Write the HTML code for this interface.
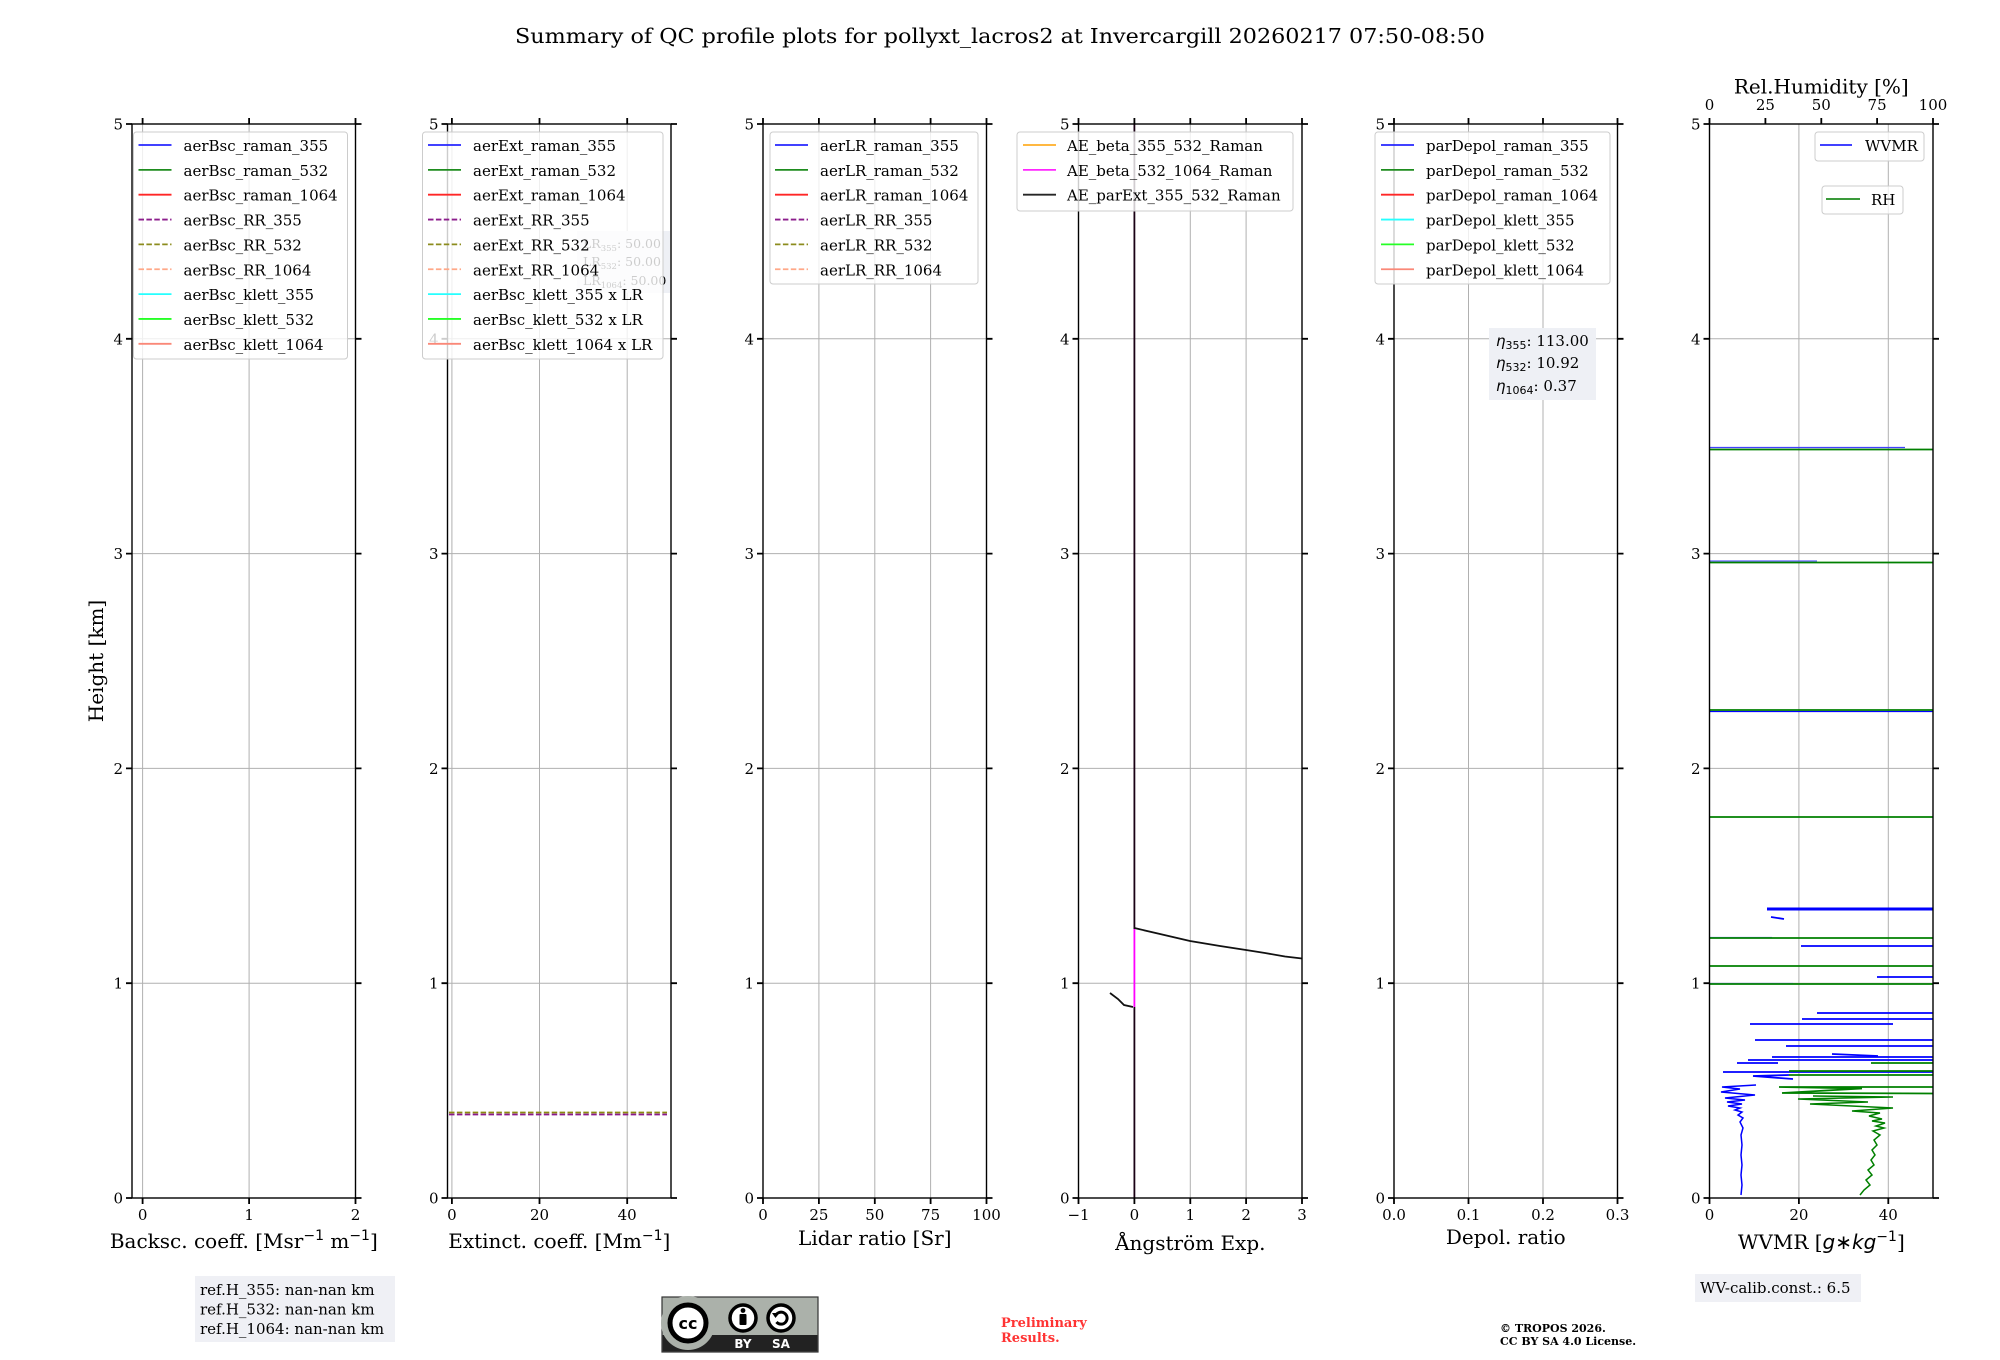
<!DOCTYPE html>
<html><head><meta charset="utf-8"><style>
html,body{margin:0;padding:0;background:#fff;}
svg{display:block;}
text{font-family:"DejaVu Serif","Liberation Serif",serif;fill:#000;}
.t{font-size:15px;}
.lab{font-size:20px;}
.m{font-family:"DejaVu Sans","Liberation Sans",sans-serif;}
</style></head><body>
<svg width="2000" height="1360" viewBox="0 0 2000 1360" xmlns="http://www.w3.org/2000/svg">
<rect width="2000" height="1360" fill="#fff"/>
<text x="1000" y="43" font-size="20.5" text-anchor="middle" textLength="970" lengthAdjust="spacingAndGlyphs">Summary of QC profile plots for pollyxt_lacros2 at Invercargill 20260217 07:50-08:50</text>

<!-- grids -->
<g stroke="#b0b0b0" stroke-width="1">
<path d="M132 983.2H355.5M132 768.4H355.5M132 553.6H355.5M132 338.8H355.5"/>
<path d="M447.5 983.2H671M447.5 768.4H671M447.5 553.6H671M447.5 338.8H671"/>
<path d="M763 983.2H986.5M763 768.4H986.5M763 553.6H986.5M763 338.8H986.5"/>
<path d="M1078.5 983.2H1302M1078.5 768.4H1302M1078.5 553.6H1302M1078.5 338.8H1302"/>
<path d="M1394 983.2H1617.5M1394 768.4H1617.5M1394 553.6H1617.5M1394 338.8H1617.5"/>
<path d="M1709.5 983.2H1933M1709.5 768.4H1933M1709.5 553.6H1933M1709.5 338.8H1933"/>
<path d="M142.6 124V1198M249.1 124V1198"/>
<path d="M451.9 124V1198M539.5 124V1198M627.2 124V1198"/>
<path d="M818.9 124V1198M874.8 124V1198M930.6 124V1198"/>
<path d="M1134.4 124V1198M1190.3 124V1198M1246.1 124V1198"/>
<path d="M1468.5 124V1198M1543 124V1198"/>
<path d="M1798.9 124V1198M1888.3 124V1198"/>
</g>

<!-- Panel 2 LR box (under legend) -->
<rect x="577" y="231" width="93" height="62" fill="#eef0f5"/>
<text x="583" y="248" font-size="12.5">LR<tspan font-size="8.5" dy="3">355</tspan><tspan dy="-3">: 50.00</tspan></text>
<text x="583" y="266" font-size="12.5">LR<tspan font-size="8.5" dy="3">532</tspan><tspan dy="-3">: 50.00</tspan></text>
<text x="583" y="285" font-size="12.5">LR<tspan font-size="8.5" dy="3">1064</tspan><tspan dy="-3">: 50.00</tspan></text>

<!-- Panel 2 data -->
<line x1="449" y1="1112.5" x2="667" y2="1112.5" stroke="#8a8a10" stroke-width="1.8" stroke-dasharray="5.5,2.4"/>
<line x1="449" y1="1114.5" x2="667" y2="1114.5" stroke="#8a1a8a" stroke-width="1.8" stroke-dasharray="5.5,2.4"/>

<!-- Panel 4 data -->
<g fill="none" stroke-width="1.8">
<line x1="1134.4" y1="124" x2="1134.4" y2="929" stroke="#1a0014"/>
<line x1="1134.4" y1="929" x2="1134.4" y2="1007" stroke="#ff00ff"/>
<line x1="1134.4" y1="1007" x2="1134.4" y2="1198" stroke="#1a0014"/>
<polyline points="1134.4,928 1160,934 1190,941 1220,946 1246,950 1265,953 1285,956.5 1302,958.5" stroke="#111"/>
<polyline points="1110,993 1118,999 1124,1005 1133,1007" stroke="#111"/>
</g>

<!-- Panel 6 data: WVMR blue -->
<g fill="none" stroke="#0000ff" stroke-width="1.8">
<path d="M1767 909H1933" stroke-width="3"/>
<path d="M1771 917L1784 919"/>
<path d="M1709.5 937.5H1772" stroke="#8080ff" stroke-width="1.2"/>
<path d="M1801 946H1933"/>
<path d="M1877 977H1933"/>
<path d="M1709.5 983.5H1793" stroke="#8080ff" stroke-width="1.2"/>
<path d="M1817 1013H1933"/>
<path d="M1802 1019H1933"/>
<path d="M1750 1024H1893"/>
<path d="M1755 1040H1933"/>
<path d="M1786 1046H1933"/>
<path d="M1832 1054L1878 1056"/>
<path d="M1772 1057H1933"/>
<path d="M1748 1060H1933"/>
<path d="M1737 1063H1778"/>
<path d="M1723 1072H1933"/>
<path d="M1789 1075L1753 1076L1793 1079"/>
<path d="M1709.5 447.5H1905" stroke="#4040ff" stroke-width="1.2"/>
<path d="M1709.5 561H1817" stroke="#6060ff" stroke-width="1.2"/>
<path d="M1709.5 711.5H1933" stroke-width="1.2"/>
<polyline points="1756,1085 1722,1087 1740,1089 1721,1092 1755,1095 1725,1098 1745,1100 1727,1102 1742,1104 1728,1106 1740,1108 1735,1110 1742,1112 1738,1115 1743,1118 1740,1122 1743,1128 1741,1135 1742,1145 1741,1155 1742,1165 1741,1175 1742,1185 1741,1195" stroke-width="1.5"/>
</g>
<!-- RH green -->
<g fill="none" stroke="#008000" stroke-width="1.8">
<path d="M1709.5 449.5H1933M1709.5 562.5H1933M1709.5 710H1933M1709.5 817H1933M1709.5 938H1933M1709.5 966H1933M1709.5 984H1933"/>
<path d="M1871 1063H1933"/>
<path d="M1789 1071H1933M1789 1075H1933"/>
<polyline points="1933,1087 1779,1087 1862,1088.5 1782,1093 1933,1093.5"/>
<polyline points="1813,1096 1893,1097 1798,1099 1868,1102 1810,1104 1893,1108 1852,1111 1880,1113 1869,1116 1882,1119 1872,1121 1885,1123 1876,1126 1884,1128 1873,1131 1880,1135 1874,1140 1877,1145 1872,1150 1875,1155 1871,1160 1874,1165 1868,1170 1872,1175 1866,1180 1870,1185 1864,1190 1860,1195" stroke-width="1.5"/>
</g>

<!-- spines -->
<g fill="none" stroke="#000" stroke-width="1.4">
<rect x="132" y="124" width="223.5" height="1074"/>
<rect x="447.5" y="124" width="223.5" height="1074"/>
<rect x="763" y="124" width="223.5" height="1074"/>
<rect x="1078.5" y="124" width="223.5" height="1074"/>
<rect x="1394" y="124" width="223.5" height="1074"/>
<rect x="1709.5" y="124" width="223.5" height="1074"/>
</g>

<!-- ticks -->
<g stroke="#000" stroke-width="1.8">
<path d="M126 124H132M126 338.8H132M126 553.6H132M126 768.4H132M126 983.2H132M126 1198H132
M355.5 124H361.5M355.5 338.8H361.5M355.5 553.6H361.5M355.5 768.4H361.5M355.5 983.2H361.5M355.5 1198H361.5"/>
<path d="M441.5 124H447.5M441.5 338.8H447.5M441.5 553.6H447.5M441.5 768.4H447.5M441.5 983.2H447.5M441.5 1198H447.5
M671 124H677M671 338.8H677M671 553.6H677M671 768.4H677M671 983.2H677M671 1198H677"/>
<path d="M757 124H763M757 338.8H763M757 553.6H763M757 768.4H763M757 983.2H763M757 1198H763
M986.5 124H992.5M986.5 338.8H992.5M986.5 553.6H992.5M986.5 768.4H992.5M986.5 983.2H992.5M986.5 1198H992.5"/>
<path d="M1072.5 124H1078.5M1072.5 338.8H1078.5M1072.5 553.6H1078.5M1072.5 768.4H1078.5M1072.5 983.2H1078.5M1072.5 1198H1078.5
M1302 124H1308M1302 338.8H1308M1302 553.6H1308M1302 768.4H1308M1302 983.2H1308M1302 1198H1308"/>
<path d="M1388 124H1394M1388 338.8H1394M1388 553.6H1394M1388 768.4H1394M1388 983.2H1394M1388 1198H1394
M1617.5 124H1623.5M1617.5 338.8H1623.5M1617.5 553.6H1623.5M1617.5 768.4H1623.5M1617.5 983.2H1623.5M1617.5 1198H1623.5"/>
<path d="M1703.5 124H1709.5M1703.5 338.8H1709.5M1703.5 553.6H1709.5M1703.5 768.4H1709.5M1703.5 983.2H1709.5M1703.5 1198H1709.5
M1933 124H1939M1933 338.8H1939M1933 553.6H1939M1933 768.4H1939M1933 983.2H1939M1933 1198H1939"/>
<path d="M142.6 118V124M249.1 118V124M355.5 118V124M142.6 1198V1204M249.1 1198V1204M355.5 1198V1204"/>
<path d="M451.9 118V124M539.5 118V124M627.2 118V124M451.9 1198V1204M539.5 1198V1204M627.2 1198V1204"/>
<path d="M763 118V124M818.9 118V124M874.8 118V124M930.6 118V124M986.5 118V124M763 1198V1204M818.9 1198V1204M874.8 1198V1204M930.6 1198V1204M986.5 1198V1204"/>
<path d="M1078.5 118V124M1134.4 118V124M1190.3 118V124M1246.1 118V124M1302 118V124M1078.5 1198V1204M1134.4 1198V1204M1190.3 1198V1204M1246.1 1198V1204M1302 1198V1204"/>
<path d="M1394 118V124M1468.5 118V124M1543 118V124M1617.5 118V124M1394 1198V1204M1468.5 1198V1204M1543 1198V1204M1617.5 1198V1204"/>
<path d="M1709.5 118V124M1765.4 118V124M1821.3 118V124M1877.1 118V124M1933 118V124M1709.5 1198V1204M1798.9 1198V1204M1888.3 1198V1204"/>
</g>

<!-- y tick labels -->
<g class="t" text-anchor="end">
<text x="123" y="129.5">5</text><text x="123" y="344.3">4</text><text x="123" y="559.1">3</text><text x="123" y="773.9">2</text><text x="123" y="988.7">1</text><text x="123" y="1203.5">0</text>
<text x="438.5" y="129.5">5</text><text x="438.5" y="344.3">4</text><text x="438.5" y="559.1">3</text><text x="438.5" y="773.9">2</text><text x="438.5" y="988.7">1</text><text x="438.5" y="1203.5">0</text>
<text x="754" y="129.5">5</text><text x="754" y="344.3">4</text><text x="754" y="559.1">3</text><text x="754" y="773.9">2</text><text x="754" y="988.7">1</text><text x="754" y="1203.5">0</text>
<text x="1069.5" y="129.5">5</text><text x="1069.5" y="344.3">4</text><text x="1069.5" y="559.1">3</text><text x="1069.5" y="773.9">2</text><text x="1069.5" y="988.7">1</text><text x="1069.5" y="1203.5">0</text>
<text x="1385" y="129.5">5</text><text x="1385" y="344.3">4</text><text x="1385" y="559.1">3</text><text x="1385" y="773.9">2</text><text x="1385" y="988.7">1</text><text x="1385" y="1203.5">0</text>
<text x="1700.5" y="129.5">5</text><text x="1700.5" y="344.3">4</text><text x="1700.5" y="559.1">3</text><text x="1700.5" y="773.9">2</text><text x="1700.5" y="988.7">1</text><text x="1700.5" y="1203.5">0</text>
</g>
<!-- x tick labels -->
<g class="t" text-anchor="middle">
<text x="142.6" y="1220">0</text><text x="249.1" y="1220">1</text><text x="355.5" y="1220">2</text>
<text x="451.9" y="1220">0</text><text x="539.5" y="1220">20</text><text x="627.2" y="1220">40</text>
<text x="763" y="1220">0</text><text x="818.9" y="1220">25</text><text x="874.8" y="1220">50</text><text x="930.6" y="1220">75</text><text x="986.5" y="1220">100</text>
<text x="1078.5" y="1220">−1</text><text x="1134.4" y="1220">0</text><text x="1190.3" y="1220">1</text><text x="1246.1" y="1220">2</text><text x="1302" y="1220">3</text>
<text x="1394" y="1220">0.0</text><text x="1468.5" y="1220">0.1</text><text x="1543" y="1220">0.2</text><text x="1617.5" y="1220">0.3</text>
<text x="1709.5" y="1220">0</text><text x="1798.9" y="1220">20</text><text x="1888.3" y="1220">40</text>
<text x="1709.5" y="110">0</text><text x="1765.4" y="110">25</text><text x="1821.3" y="110">50</text><text x="1877.1" y="110">75</text><text x="1933" y="110">100</text>
</g>

<!-- axis labels -->
<g class="lab" text-anchor="middle">
<text transform="translate(103,661) rotate(-90)">Height [km]</text>
<text x="243.8" y="1248">Backsc. coeff. [Msr<tspan class="m" font-size="14" dy="-8">−1</tspan><tspan dy="8"> m</tspan><tspan class="m" font-size="14" dy="-8">−1</tspan><tspan dy="8">]</tspan></text>
<text x="559.3" y="1248">Extinct. coeff. [Mm<tspan class="m" font-size="14" dy="-8">−1</tspan><tspan dy="8">]</tspan></text>
<text x="874.8" y="1245">Lidar ratio [Sr]</text>
<text x="1190.3" y="1250">Ångström Exp.</text>
<text x="1505.8" y="1244">Depol. ratio</text>
<text x="1821.3" y="1249">WVMR [<tspan class="m" font-style="italic">g</tspan><tspan class="m">∗</tspan><tspan class="m" font-style="italic">kg</tspan><tspan class="m" font-size="14" dy="-8">−1</tspan><tspan dy="8">]</tspan></text>
<text x="1821.3" y="93.5">Rel.Humidity [%]</text>
</g>

<!-- legends -->
<g class="t">
<rect x="133.5" y="132" width="214" height="227" rx="3" fill="#fff" fill-opacity="0.8" stroke="#cccccc" stroke-width="1"/>
<g stroke-width="1.8">
<line x1="138.5" y1="145" x2="171.5" y2="145" stroke="#2626ff"/>
<line x1="138.5" y1="169.85" x2="171.5" y2="169.85" stroke="#1e8c1e"/>
<line x1="138.5" y1="194.7" x2="171.5" y2="194.7" stroke="#ff2626"/>
<line x1="138.5" y1="219.55" x2="171.5" y2="219.55" stroke="#8c1e8c" stroke-dasharray="5.5,2.4"/>
<line x1="138.5" y1="244.4" x2="171.5" y2="244.4" stroke="#8c8c1e" stroke-dasharray="5.5,2.4"/>
<line x1="138.5" y1="269.25" x2="171.5" y2="269.25" stroke="#ffa888" stroke-dasharray="5.5,2.4"/>
<line x1="138.5" y1="294.1" x2="171.5" y2="294.1" stroke="#26ffff"/>
<line x1="138.5" y1="318.95" x2="171.5" y2="318.95" stroke="#26ff26"/>
<line x1="138.5" y1="343.8" x2="171.5" y2="343.8" stroke="#fa8878"/>
</g>
<text x="183.5" y="151">aerBsc_raman_355</text>
<text x="183.5" y="175.85">aerBsc_raman_532</text>
<text x="183.5" y="200.7">aerBsc_raman_1064</text>
<text x="183.5" y="225.55">aerBsc_RR_355</text>
<text x="183.5" y="250.4">aerBsc_RR_532</text>
<text x="183.5" y="275.25">aerBsc_RR_1064</text>
<text x="183.5" y="300.1">aerBsc_klett_355</text>
<text x="183.5" y="324.95">aerBsc_klett_532</text>
<text x="183.5" y="349.8">aerBsc_klett_1064</text>

<rect x="422.5" y="132" width="240.5" height="227" rx="3" fill="#fff" fill-opacity="0.8" stroke="#cccccc" stroke-width="1"/>
<g stroke-width="1.8">
<line x1="428" y1="145" x2="461" y2="145" stroke="#2626ff"/>
<line x1="428" y1="169.85" x2="461" y2="169.85" stroke="#1e8c1e"/>
<line x1="428" y1="194.7" x2="461" y2="194.7" stroke="#ff2626"/>
<line x1="428" y1="219.55" x2="461" y2="219.55" stroke="#8c1e8c" stroke-dasharray="5.5,2.4"/>
<line x1="428" y1="244.4" x2="461" y2="244.4" stroke="#8c8c1e" stroke-dasharray="5.5,2.4"/>
<line x1="428" y1="269.25" x2="461" y2="269.25" stroke="#ffa888" stroke-dasharray="5.5,2.4"/>
<line x1="428" y1="294.1" x2="461" y2="294.1" stroke="#26ffff"/>
<line x1="428" y1="318.95" x2="461" y2="318.95" stroke="#26ff26"/>
<line x1="428" y1="343.8" x2="461" y2="343.8" stroke="#fa8878"/>
</g>
<text x="473" y="151">aerExt_raman_355</text>
<text x="473" y="175.85">aerExt_raman_532</text>
<text x="473" y="200.7">aerExt_raman_1064</text>
<text x="473" y="225.55">aerExt_RR_355</text>
<text x="473" y="250.4">aerExt_RR_532</text>
<text x="473" y="275.25">aerExt_RR_1064</text>
<text x="473" y="300.1">aerBsc_klett_355 x LR</text>
<text x="473" y="324.95">aerBsc_klett_532 x LR</text>
<text x="473" y="349.8">aerBsc_klett_1064 x LR</text>

<rect x="770" y="132" width="208" height="152" rx="3" fill="#fff" fill-opacity="0.8" stroke="#cccccc" stroke-width="1"/>
<g stroke-width="1.8">
<line x1="775" y1="145" x2="808" y2="145" stroke="#2626ff"/>
<line x1="775" y1="169.85" x2="808" y2="169.85" stroke="#1e8c1e"/>
<line x1="775" y1="194.7" x2="808" y2="194.7" stroke="#ff2626"/>
<line x1="775" y1="219.55" x2="808" y2="219.55" stroke="#8c1e8c" stroke-dasharray="5.5,2.4"/>
<line x1="775" y1="244.4" x2="808" y2="244.4" stroke="#8c8c1e" stroke-dasharray="5.5,2.4"/>
<line x1="775" y1="269.25" x2="808" y2="269.25" stroke="#ffa888" stroke-dasharray="5.5,2.4"/>
</g>
<text x="820" y="151">aerLR_raman_355</text>
<text x="820" y="175.85">aerLR_raman_532</text>
<text x="820" y="200.7">aerLR_raman_1064</text>
<text x="820" y="225.55">aerLR_RR_355</text>
<text x="820" y="250.4">aerLR_RR_532</text>
<text x="820" y="275.25">aerLR_RR_1064</text>

<rect x="1017" y="132" width="276" height="79" rx="3" fill="#fff" fill-opacity="0.8" stroke="#cccccc" stroke-width="1"/>
<g stroke-width="1.8">
<line x1="1023" y1="145" x2="1056" y2="145" stroke="#ffae26"/>
<line x1="1023" y1="169.85" x2="1056" y2="169.85" stroke="#ff26ff"/>
<line x1="1023" y1="194.7" x2="1056" y2="194.7" stroke="#262626"/>
</g>
<text x="1067" y="151">AE_beta_355_532_Raman</text>
<text x="1067" y="175.85">AE_beta_532_1064_Raman</text>
<text x="1067" y="200.7">AE_parExt_355_532_Raman</text>

<rect x="1375" y="132" width="235" height="152" rx="3" fill="#fff" fill-opacity="0.8" stroke="#cccccc" stroke-width="1"/>
<g stroke-width="1.8">
<line x1="1381" y1="145" x2="1414" y2="145" stroke="#2626ff"/>
<line x1="1381" y1="169.85" x2="1414" y2="169.85" stroke="#1e8c1e"/>
<line x1="1381" y1="194.7" x2="1414" y2="194.7" stroke="#ff2626"/>
<line x1="1381" y1="219.55" x2="1414" y2="219.55" stroke="#26ffff"/>
<line x1="1381" y1="244.4" x2="1414" y2="244.4" stroke="#26ff26"/>
<line x1="1381" y1="269.25" x2="1414" y2="269.25" stroke="#fa8878"/>
</g>
<text x="1426" y="151">parDepol_raman_355</text>
<text x="1426" y="175.85">parDepol_raman_532</text>
<text x="1426" y="200.7">parDepol_raman_1064</text>
<text x="1426" y="225.55">parDepol_klett_355</text>
<text x="1426" y="250.4">parDepol_klett_532</text>
<text x="1426" y="275.25">parDepol_klett_1064</text>

<rect x="1815" y="132" width="109" height="29" rx="3" fill="#fff" fill-opacity="0.8" stroke="#cccccc" stroke-width="1"/>
<line x1="1820" y1="145" x2="1852" y2="145" stroke="#2626ff" stroke-width="1.8"/>
<text x="1865" y="151">WVMR</text>
<rect x="1822" y="186" width="81" height="28" rx="3" fill="#fff" fill-opacity="0.8" stroke="#cccccc" stroke-width="1"/>
<line x1="1826" y1="199" x2="1860" y2="199" stroke="#1e8c1e" stroke-width="1.8"/>
<text x="1871" y="205">RH</text>
</g>

<!-- eta box -->
<rect x="1489" y="328" width="107" height="72" fill="#eef0f5"/>
<g font-size="15">
<text x="1496" y="346"><tspan class="m" font-style="italic">η</tspan><tspan class="m" font-size="11" dy="3">355</tspan><tspan dy="-3">: 113.00</tspan></text>
<text x="1496" y="368"><tspan class="m" font-style="italic">η</tspan><tspan class="m" font-size="11" dy="3">532</tspan><tspan dy="-3">: 10.92</tspan></text>
<text x="1496" y="391"><tspan class="m" font-style="italic">η</tspan><tspan class="m" font-size="11" dy="3">1064</tspan><tspan dy="-3">: 0.37</tspan></text>
</g>

<!-- ref H box -->
<rect x="195" y="1276" width="200" height="66" fill="#eff0f5"/>
<g class="t">
<text x="200" y="1295">ref.H_355: nan-nan km</text>
<text x="200" y="1314.5">ref.H_532: nan-nan km</text>
<text x="200" y="1334">ref.H_1064: nan-nan km</text>
</g>

<!-- WV calib box -->
<rect x="1695" y="1274" width="166" height="28" fill="#eff0f5"/>
<text class="t" x="1700" y="1293">WV-calib.const.: 6.5</text>

<!-- Preliminary -->
<text x="1001" y="1327" font-size="13" font-weight="bold" style="fill:#ff3333">Preliminary</text>
<text x="1001" y="1342" font-size="13" font-weight="bold" style="fill:#ff3333">Results.</text>

<!-- copyright -->
<text x="1500" y="1332" font-size="11" font-weight="bold">© TROPOS 2026.</text>
<text x="1500" y="1345" font-size="11" font-weight="bold">CC BY SA 4.0 License.</text>

<!-- CC logo -->
<g>
<rect x="662" y="1297" width="156" height="55" fill="#abb1aa" stroke="#333" stroke-width="1.2"/>
<rect x="662.6" y="1335" width="154.8" height="16.4" fill="#222"/>
<circle cx="688" cy="1323" r="27" fill="#abb1aa"/>
<circle cx="688" cy="1323" r="18" fill="#fff" stroke="#000" stroke-width="5"/>
<text x="688" y="1329" font-size="16" font-weight="bold" text-anchor="middle" class="m">cc</text>
<circle cx="743" cy="1318" r="13" fill="#fff" stroke="#000" stroke-width="3.5"/>
<circle cx="743" cy="1310.5" r="2.4" fill="#000"/>
<rect x="739.5" y="1314" width="7" height="11" rx="1" fill="#000"/>
<circle cx="781" cy="1318" r="13" fill="#fff" stroke="#000" stroke-width="3.5"/>
<path d="M775.5 1316 A6 6 0 1 1 776.5 1322" fill="none" stroke="#000" stroke-width="3"/>
<path d="M772 1313 L775.5 1318 L779 1313 Z" fill="#000"/>
<text x="743" y="1348" font-size="12" font-weight="bold" text-anchor="middle" class="m" style="fill:#fff">BY</text>
<text x="781" y="1348" font-size="12" font-weight="bold" text-anchor="middle" class="m" style="fill:#fff">SA</text>
</g>
</svg>
</body></html>
